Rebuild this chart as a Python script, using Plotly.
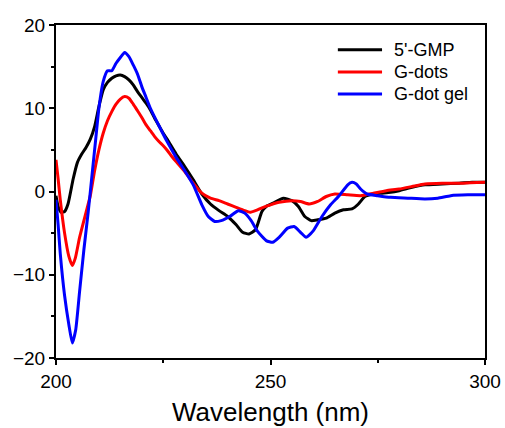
import plotly.graph_objects as go

# CD spectra: wavelength (nm) vs ellipticity
gmp_x = [200, 200.5, 201.2, 202, 202.8, 204, 205, 206, 207, 208, 209, 210, 211, 212, 213, 214, 215, 216,
         217, 218, 219, 220, 221, 222, 223, 224, 225, 226, 228, 230, 232, 234, 236, 238, 240, 242, 243.5,
         245, 246.5, 248, 249, 250.6, 253, 255, 256.5, 258, 259.5, 261, 263, 265, 267, 269, 270.5, 272,
         274, 276, 278, 280, 283, 286, 290, 294, 297, 300]
gmp_y = [-0.5, -1.8, -2.5, -2.4, -1.5, 1.5, 3.5, 4.5, 5.3, 6.3, 7.8, 10.2, 12.2, 13.1, 13.6, 13.9, 14.0, 13.8,
         13.4, 12.8, 12.0, 11.3, 10.6, 9.8, 8.8, 7.9, 7.0, 6.2, 4.5, 3.0, 1.4, -0.3, -1.5, -2.3, -3.0, -4.0, -4.9,
         -5.1, -4.6, -2.4, -1.8, -1.4, -0.8, -1.1, -1.8, -3.0, -3.5, -3.4, -3.2, -2.6, -2.2, -2.1, -1.5, -0.6,
         -0.3, -0.2, -0.1, 0.1, 0.5, 0.8, 0.9, 1.0, 1.1, 1.1]

dots_x = [200, 200.5, 201, 202, 203, 203.8, 204.5, 205.5, 207, 208, 209, 210, 211, 212, 213, 214, 215, 216,
          217, 218, 219, 220, 221, 222, 223, 224, 225, 226, 227, 228, 230, 232, 234, 236, 238, 240, 242, 244,
          245.2, 246.5, 248.3, 250, 252, 255, 257, 259, 261, 263, 265, 268, 271, 274, 277, 280, 283, 286,
          290, 295, 300]
dots_y = [3.8, 1.5, -1.0, -5.0, -7.8, -8.9, -8.0, -5.5, -2.5, -0.5, 2.5, 5.0, 7.0, 8.5, 9.6, 10.5, 11.1, 11.4,
          11.2, 10.5, 9.7, 8.9, 8.0, 7.3, 6.6, 6.0, 5.5, 4.9, 4.2, 3.6, 2.4, 1.0, -0.2, -0.8, -1.1, -1.5, -1.9, -2.3,
          -2.5, -2.3, -1.9, -1.6, -1.3, -1.1, -1.2, -1.5, -1.2, -0.6, -0.3, -0.4, -0.5, -0.2, 0.1, 0.3, 0.6, 0.9,
          1.0, 1.0, 1.1]

gel_x = [200, 200.5, 201, 202, 203, 203.8, 204.6, 205.5, 206.5, 207.5, 208.5, 209.3, 210, 211, 212, 213, 214,
         215, 216, 217, 218, 219, 220, 221, 222, 224, 226, 228, 230, 232, 234, 235.5, 237, 238.5, 240.5, 242.5,
         244, 245.5, 247, 249, 250.5, 252, 254, 255.5, 257, 258.3, 260, 262, 264, 266, 268, 269, 270, 271,
         272.5, 275, 278, 282, 286, 289, 292, 296, 300]
gel_y = [-1.0, -4.0, -7.5, -12.5, -16.0, -18.2, -16.6, -12.0, -7.0, -2.5, 2.5, 6.5, 10.0, 13.2, 14.5, 14.5, 15.4,
         16.1, 16.7, 16.2, 15.2, 14.1, 12.6, 11.3, 10.0, 7.9, 5.9, 4.1, 2.5, 0.8, -1.6, -3.0, -3.6, -3.5, -3.0, -2.3,
         -2.6, -3.5, -4.8, -5.9, -6.1, -5.5, -4.4, -4.2, -4.9, -5.5, -4.7, -3.0, -1.6, -0.5, 0.8, 1.1, 0.9, 0.3,
         -0.3, -0.5, -0.7, -0.8, -0.9, -0.8, -0.5, -0.4, -0.4]

names = ["5'-GMP", "G-dots", "G-dot gel"]
colors = ["#000000", "#ff0000", "#0000ff"]
series = [(gmp_x, gmp_y), (dots_x, dots_y), (gel_x, gel_y)]

fig = go.Figure()
for (xs, ys), name, color in zip(series, names, colors):
    fig.add_trace(go.Scatter(x=xs, y=ys, mode="lines", name=name,
                             line=dict(color=color, width=3, shape="spline", smoothing=0.5),
                             showlegend=False))

# Hand-placed legend in the upper right of the plot area
legend_rows_y = [0.926, 0.859, 0.793]
for name, color, ly in zip(names, colors, legend_rows_y):
    fig.add_shape(type="line", xref="paper", yref="paper",
                  x0=0.657, x1=0.760, y0=ly, y1=ly,
                  line=dict(color=color, width=3))
    fig.add_annotation(xref="paper", yref="paper", x=0.783, y=ly, text=name,
                       showarrow=False, xanchor="left", yanchor="middle",
                       font=dict(size=18, color="#000000"))

axis_common = dict(showline=True, linewidth=2, linecolor="#000000", mirror=True,
                   ticks="outside", tickwidth=2, ticklen=5, tickcolor="#000000",
                   showgrid=False, zeroline=False, automargin=False,
                   tickfont=dict(size=19, color="#000000"))

fig.update_xaxes(range=[200, 300], dtick=50, tick0=200,
                 minor=dict(dtick=25, ticks="outside", ticklen=3, tickwidth=2, tickcolor="#000000"),
                 title=dict(text="Wavelength (nm)", font=dict(size=26, color="#000000"), standoff=12),
                 **axis_common)
fig.update_yaxes(range=[-20, 20], dtick=10, tick0=-20,
                 minor=dict(dtick=5, ticks="outside", ticklen=3, tickwidth=2, tickcolor="#000000"),
                 **axis_common)

fig.update_layout(width=505, height=428,
                  margin=dict(l=56, r=20, t=25, b=70),
                  paper_bgcolor="#ffffff", plot_bgcolor="#ffffff",
                  font=dict(family="Liberation Sans, Arial, sans-serif", color="#000000"))

fig.write_html("out.html")
